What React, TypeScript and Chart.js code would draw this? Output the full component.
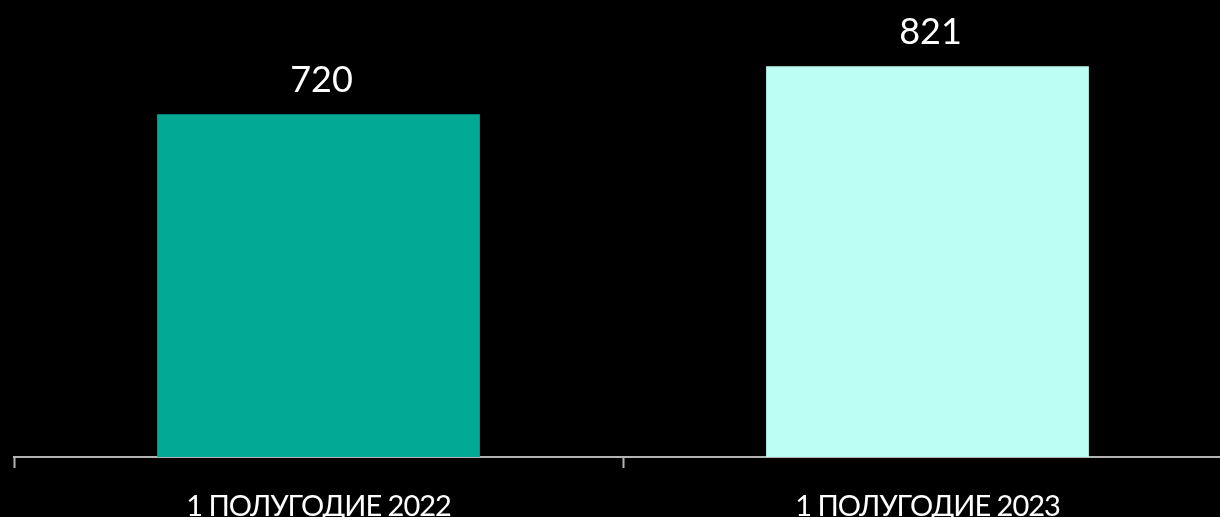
import React, { useEffect, useRef } from "react";
import { Chart, registerables } from "chart.js";

Chart.register(...registerables);

const categories = ["1 ПОЛУГОДИЕ 2022", "1 ПОЛУГОДИЕ 2023"];
const values = [720, 821];
const barColors = ["#02AA96", "#BDFEF4"];

const spacing = {
  id: "spacing",
  beforeDraw(chart: any) {
    chart.ctx.save();
    (chart.ctx as any).letterSpacing = "-1px";
  },
  afterDraw(chart: any) {
    chart.ctx.restore();
  },
};

const valueLabels = {
  id: "valueLabels",
  afterDatasetsDraw(chart: any) {
    const ctx = chart.ctx;
    const meta = chart.getDatasetMeta(0);
    ctx.save();
    (ctx as any).letterSpacing = "0px";
    ctx.fillStyle = "#ffffff";
    ctx.font = "36px Lato";
    ctx.textAlign = "center";
    ctx.textBaseline = "alphabetic";
    meta.data.forEach((bar: any, i: number) => {
      ctx.fillText(String(values[i]), bar.x + 3, bar.y - 22);
    });
    ctx.restore();
  },
};

export default function App() {
  const ref = useRef<HTMLCanvasElement>(null);
  useEffect(() => {
    document.body.style.margin = "0";
    document.body.style.background = "#000";
    document.body.style.overflow = "hidden";
    const chart = new Chart(ref.current!, {
      type: "bar",
      data: {
        labels: categories,
        datasets: [
          {
            data: values,
            backgroundColor: barColors,
            borderWidth: 0,
            barPercentage: 0.53,
            categoryPercentage: 1,
          },
        ],
      },
      options: {
        animation: false,
        responsive: false,
        maintainAspectRatio: false,
        layout: { padding: { left: 14, right: 8, top: 0, bottom: 0 } },
        plugins: { legend: { display: false }, tooltip: { enabled: false } },
        scales: {
          x: {
            afterFit: (s: any) => {
              s.height = 60;
            },
            grid: {
              display: true,
              drawOnChartArea: false,
              drawTicks: true,
              tickLength: 11,
              tickWidth: 2,
              tickColor: "#b4b4b4",
              offset: true,
            },
            border: { display: true, color: "#b4b4b4", width: 2 },
            ticks: {
              color: "#ffffff",
              font: { family: "Lato", size: 29 },
              padding: 21,
              maxRotation: 0,
            },
          },
          y: {
            display: false,
            min: 0,
            max: 960,
          },
        },
      },
      plugins: [spacing, valueLabels],
    });
    return () => chart.destroy();
  }, []);
  return (
    <div style={{ position: "relative", width: 1220, height: 517, overflow: "hidden", background: "#000" }}>
      <canvas ref={ref} width={1240} height={517} style={{ position: "absolute", left: 0, top: 0, width: 1240, height: 517 }} />
    </div>
  );
}
